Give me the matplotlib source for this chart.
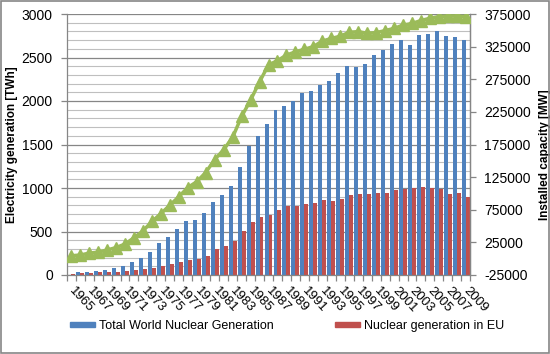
import matplotlib
matplotlib.use("Agg")
import matplotlib.pyplot as plt
import numpy as np
from matplotlib.patches import Rectangle, Patch

plt.rcParams['font.family'] = ['Liberation Sans', 'DejaVu Sans']
plt.rcParams['axes.unicode_minus'] = False

years = list(range(1965, 2010))

# TWh, total world nuclear generation
world_twh = [0, 36, 36, 48, 59, 82, 105, 153, 197, 266,
             370, 438, 529, 620, 632, 712, 839, 919, 1023, 1241,
             1482, 1597, 1735, 1896, 1942, 1996, 2092, 2115, 2184, 2230,
             2322, 2402, 2391, 2425, 2528, 2586, 2655, 2701, 2643, 2758,
             2770, 2804, 2747, 2735, 2701]

# TWh, nuclear generation in EU
eu_twh = [11, 19, 23, 34, 34, 34, 46, 57, 72, 86,
          108, 126, 150, 172, 188, 218, 299, 333, 395, 506,
          609, 667, 690, 747, 793, 793, 816, 828, 862, 850,
          873, 919, 931, 931, 942, 942, 977, 988, 1000, 1011,
          1000, 988, 931, 942, 896]

# MW, installed capacity (secondary axis)
capacity_mw = [4500, 5600, 8500, 10000, 13300, 17000, 22500, 32000, 42500, 57000,
               69000, 82000, 95000, 109000, 118000, 132000, 152000, 167000, 186000, 218000,
               243000, 271000, 297000, 303500, 312000, 317000, 321000, 325000, 333500, 337500,
               341000, 347000, 348000, 345500, 346500, 349500, 353000, 358000, 360500, 365000,
               368500, 371000, 372000, 372000, 371000]

blue = '#4F81BD'
red = '#C0504D'
green = '#9BBB59'
axcol = '#868686'

fig = plt.figure(figsize=(5.5, 3.54), dpi=100)
ax = fig.add_axes([66.7 / 550, 1 - 275 / 354, (470.3 - 66.7) / 550, (275 - 14) / 354])

x = np.arange(len(years))
w = 0.44
ax.bar(x - w / 2, world_twh, width=w, color=blue, zorder=2)
ax.bar(x + w / 2, eu_twh, width=w, color=red, zorder=2)

ax.set_xlim(-0.5, len(years) - 0.5)
ax.set_ylim(0, 3000)
ax.set_yticks(np.arange(0, 3001, 500))
ax.set_yticks(np.arange(0, 3001, 100), minor=True)
ax.grid(axis='y', which='minor', color='#BFBFBF', lw=0.8, zorder=0)
ax.grid(axis='y', which='major', color=axcol, lw=0.9, zorder=0)
ax.set_axisbelow(True)

# ticks between categories, labels every other year
ax.set_xticks(np.arange(-0.5, len(years), 1.0))
ax.set_xticklabels([])
ax.set_xticks(x[::2], minor=True)
ax.set_xticklabels([str(y) for y in years[::2]], minor=True, rotation=-47,
                   ha='left', va='center', rotation_mode='anchor', fontsize=9.5)
ax.tick_params(axis='x', which='major', length=4, color=axcol, width=0.9)
ax.tick_params(axis='x', which='minor', length=0, pad=10)
ax.tick_params(axis='y', which='major', length=4, color=axcol, width=0.9, labelsize=10, pad=6)
ax.tick_params(axis='y', which='minor', length=0)

ax.spines['top'].set_visible(False)
for s in ['left', 'bottom', 'right']:
    ax.spines[s].set_color(axcol)
    ax.spines[s].set_linewidth(0.9)

ax.set_ylabel('Electricity generation [TWh]', fontsize=8.5, fontweight='bold', labelpad=3)

ax2 = ax.twinx()
ax2.plot(x, capacity_mw, color=green, lw=2.5, marker='^', ms=8, zorder=3)
ax2.set_ylim(-25000, 375000)
ax2.set_yticks(np.arange(-25000, 375001, 50000))
ax2.tick_params(axis='y', length=4, color=axcol, width=0.9, labelsize=10, pad=6)
for s in ['top', 'left', 'bottom']:
    ax2.spines[s].set_visible(False)
ax2.spines['right'].set_color(axcol)
ax2.spines['right'].set_linewidth(0.9)
ax2.set_ylabel('Installed capacity [MW]', fontsize=8.5, fontweight='bold', labelpad=3)
ax2.yaxis.set_label_coords(1.17, 0.46)

handles = [Patch(color=blue, label='Total World Nuclear Generation'),
           Patch(color=red, label='Nuclear generation in EU')]
fig.legend(handles=handles, loc='center left', bbox_to_anchor=(70 / 550, 1 - 326 / 354),
           ncol=2, frameon=False, fontsize=9, handlelength=2.0, handleheight=0.3,
           handletextpad=0.3, columnspacing=4.9, borderaxespad=0, borderpad=0)

fig.patches.append(Rectangle((0.001, 0.002), 0.997, 0.995, transform=fig.transFigure,
                             fill=False, edgecolor=axcol, lw=1.2))

fig.savefig('out.png', dpi=100)
